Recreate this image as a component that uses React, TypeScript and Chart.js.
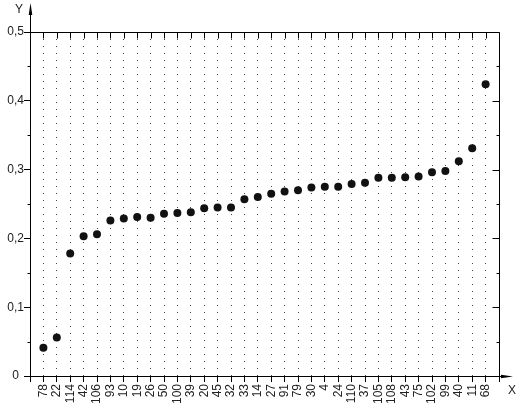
import React, { useEffect, useRef } from "react";
import { Chart, registerables } from "chart.js";

Chart.register(...registerables);

const categories: string[] = [
  "78", "22", "114", "42", "106", "93", "10", "19", "26", "50", "100", "39",
  "20", "45", "32", "33", "14", "27", "91", "79", "30", "4", "24", "110",
  "37", "105", "108", "43", "75", "102", "99", "40", "11", "68",
];

const values: number[] = [
  0.041, 0.056, 0.178, 0.203, 0.206, 0.226, 0.229, 0.231, 0.230, 0.236, 0.237, 0.238,
  0.244, 0.245, 0.245, 0.257, 0.260, 0.265, 0.268, 0.270, 0.274, 0.275, 0.275, 0.279,
  0.281, 0.288, 0.288, 0.289, 0.290, 0.296, 0.298, 0.312, 0.331, 0.424,
];

const yTickValues: number[] = [0, 0.1, 0.2, 0.3, 0.4, 0.5];
const yMinorStep = 0.05;
const xAxisName = "X";
const yAxisName = "Y";

const FONT = "'Liberation Sans', Arial, sans-serif";

const framePlugin = {
  id: "framePlugin",
  afterDraw(chart: any) {
    const { ctx, chartArea, scales } = chart;
    const { left, right, top, bottom } = chartArea;
    const x = scales.x;
    const y = scales.y;
    const L = Math.round(left) + 0.5;
    const R = Math.round(right) + 0.5;
    const T = Math.round(top) + 0.5;
    const B = Math.round(bottom) + 0.5;
    ctx.save();
    ctx.strokeStyle = "#000";
    ctx.fillStyle = "#000";
    ctx.lineWidth = 1;
    ctx.setLineDash([]);
    const line = (x1: number, y1: number, x2: number, y2: number) => {
      ctx.beginPath();
      ctx.moveTo(x1, y1);
      ctx.lineTo(x2, y2);
      ctx.stroke();
    };
    // top and right frame
    line(L, T, R, T);
    line(R, T, R, B);
    // top ticks (inward)
    for (let i = 1; i <= categories.length; i++) {
      const px = Math.round(x.getPixelForValue(i)) + 0.5;
      line(px, T, px, T + 6);
    }
    // minor ticks left, ticks right
    const maxY = yTickValues[yTickValues.length - 1];
    const n = Math.round(maxY / yMinorStep);
    for (let k = 0; k <= n; k++) {
      const py = Math.round(y.getPixelForValue(k * yMinorStep)) + 0.5;
      const major = k % 2 === 0;
      if (!major) line(L - 3, py, L, py);
      line(R - (major ? 7 : 3), py, R, py);
    }
    // Y arrow
    line(L, T, L, 14);
    ctx.beginPath();
    ctx.moveTo(L, 3);
    ctx.lineTo(L - 1.8, 15);
    ctx.lineTo(L + 1.8, 15);
    ctx.closePath();
    ctx.fill();
    // X arrow
    line(R, B, 503, B);
    ctx.beginPath();
    ctx.moveTo(513, B);
    ctx.lineTo(501, B - 1.8);
    ctx.lineTo(501, B + 1.8);
    ctx.closePath();
    ctx.fill();
    // axis names
    ctx.fillStyle = "#222";
    ctx.font = `12px ${FONT}`;
    ctx.textAlign = "center";
    ctx.textBaseline = "middle";
    ctx.fillText(yAxisName, 19, 10);
    ctx.fillText(xAxisName, 512, 391);
    ctx.restore();
  },
};

export default function App() {
  const canvasRef = useRef<HTMLCanvasElement | null>(null);

  useEffect(() => {
    document.body.style.margin = "0";
    const canvas = canvasRef.current;
    if (!canvas) return;
    const xTickVals: number[] = [];
    for (let i = 0; i <= categories.length + 1; i++) xTickVals.push(i);
    const chart = new Chart(canvas, {
      type: "scatter",
      data: {
        datasets: [
          {
            data: values.map((v, i) => ({ x: i + 1, y: v })),
            pointRadius: 4,
            pointHoverRadius: 4,
            pointBackgroundColor: "#111",
            pointBorderColor: "#111",
            pointBorderWidth: 0,
          },
        ],
      },
      options: {
        animation: false,
        responsive: true,
        maintainAspectRatio: false,
        layout: { padding: { top: 32, right: 22, left: 0, bottom: 0 } },
        plugins: {
          legend: { display: false },
          tooltip: { enabled: false },
        },
        scales: {
          x: {
            type: "linear",
            min: 0,
            max: categories.length + 1,
            afterBuildTicks: (scale: any) => {
              scale.ticks = xTickVals.map((v) => ({ value: v }));
            },
            afterFit: (scale: any) => {
              scale.height = 33;
            },
            ticks: {
              autoSkip: false,
              minRotation: 90,
              maxRotation: 90,
              padding: 2,
              color: "#222",
              font: { family: FONT, size: 12 },
              callback: (v: any) => {
                const i = Math.round(Number(v));
                return i >= 1 && i <= categories.length ? categories[i - 1] : "";
              },
            },
            grid: {
              drawOnChartArea: true,
              color: (ctx: any) => {
                const v = ctx.tick ? ctx.tick.value : 0;
                return v === 0 || v === categories.length + 1 ? "rgba(0,0,0,0)" : "#444";
              },
              tickColor: "#000",
              tickLength: 6,
              tickBorderDash: [],
            },
            border: { display: true, color: "#000", width: 1, dash: [1, 6] },
          },
          y: {
            type: "linear",
            min: 0,
            max: 0.5,
            afterBuildTicks: (scale: any) => {
              scale.ticks = yTickValues.map((v) => ({ value: v }));
            },
            afterFit: (scale: any) => {
              scale.width = 30;
            },
            ticks: {
              padding: 0,
              crossAlign: "center",
              color: "#222",
              font: { family: FONT, size: 12 },
              callback: (v: any) => {
                const n = Number(v);
                return n === 0 ? "0" : n.toFixed(1).replace(".", ",");
              },
            },
            grid: {
              drawOnChartArea: false,
              tickColor: "#000",
              tickLength: 6,
            },
            border: { display: true, color: "#000", width: 1 },
          },
        },
      },
      plugins: [framePlugin],
    } as any);
    return () => chart.destroy();
  }, []);

  return (
    <div style={{ position: "relative", width: 521, height: 409 }}>
      <canvas ref={canvasRef} />
    </div>
  );
}
